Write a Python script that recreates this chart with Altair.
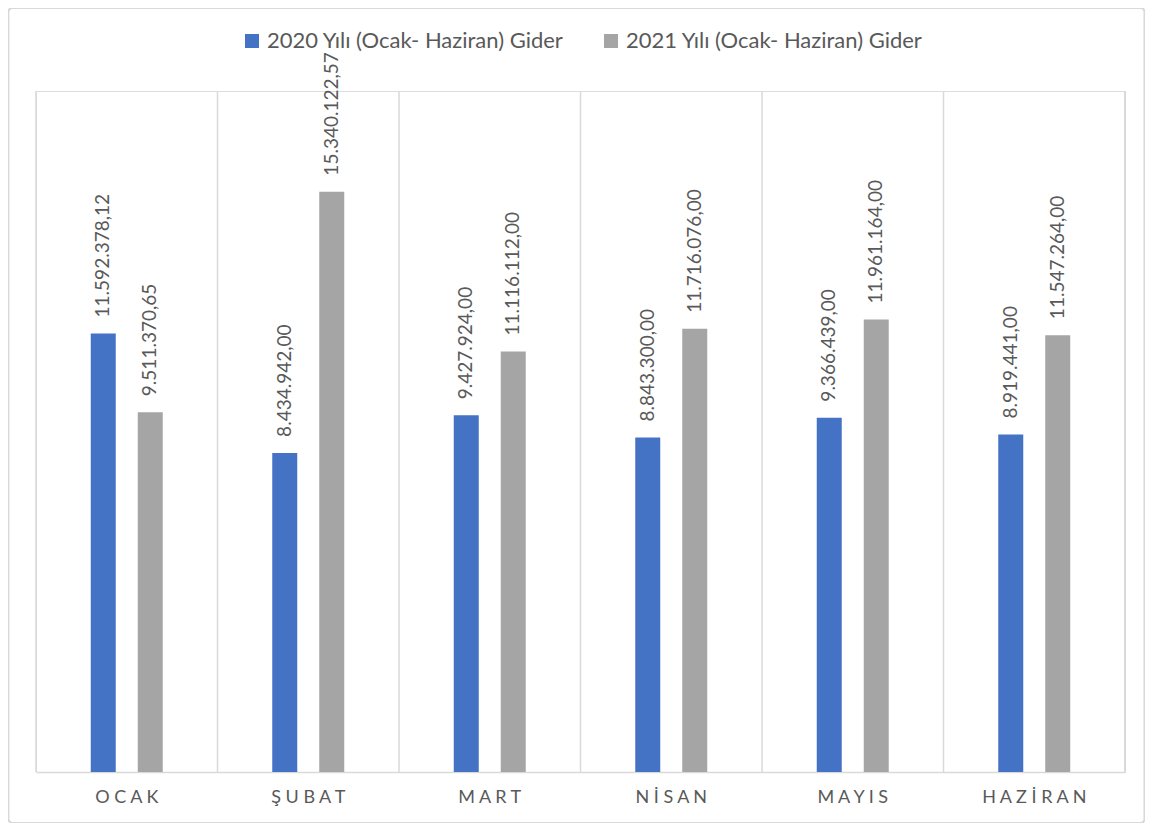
import altair as alt
import pandas as pd

months = ["OCAK", "ŞUBAT", "MART", "NİSAN", "MAYIS", "HAZİRAN"]
series = ["2020 Yılı (Ocak- Haziran) Gider", "2021 Yılı (Ocak- Haziran) Gider"]
values_2020 = [11592378.12, 8434942.00, 9427924.00, 8843300.00, 9366439.00, 8919441.00]
values_2021 = [9511370.65, 15340122.57, 11116112.00, 11716076.00, 11961164.00, 11547264.00]
colors = ["#4472C4", "#A5A5A5"]


def tr_format(v):
    s = f"{v:,.2f}"
    return s.replace(",", "X").replace(".", ",").replace("X", ".")


rows = []
for m, a, b in zip(months, values_2020, values_2021):
    rows.append({"month": m, "series": series[0], "value": a, "label": tr_format(a)})
    rows.append({"month": m, "series": series[1], "value": b, "label": tr_format(b)})
df = pd.DataFrame(rows)
grid_df = pd.DataFrame({"month": months})

W, H = 1089, 681
FONT = "Lato"
TXT = "#595959"
GRID = "#D9D9D9"

x_axis = alt.Axis(
    title=None,
    labelAngle=0,
    grid=False,
    ticks=False,
    bandPosition=0.5,
    domainColor=GRID,
    domainWidth=1.5,
    labelFont=FONT,
    labelFontSize=18,
    labelColor=TXT,
    labelPadding=16,
    labelExpr="join(split(datum.label, ''), ' ')",
)
x_enc = alt.X("month:N", sort=months,
              scale=alt.Scale(paddingInner=0, paddingOuter=0), axis=x_axis)
xoff = alt.XOffset("series:N", sort=series,
                   scale=alt.Scale(paddingInner=0, paddingOuter=0.931))
y_enc = alt.Y("value:Q", scale=alt.Scale(domain=[0, 18000000]), axis=None)

frame = alt.Chart(grid_df).mark_rect(
    fill=None, stroke=GRID, strokeWidth=1.2, cornerRadius=3
).encode(
    x=alt.value(-27.5), x2=alt.value(W + 19.5),
    y=alt.value(-82.5), y2=alt.value(H + 50.5),
)

gridlines = alt.Chart(grid_df).mark_rule(color=GRID, strokeWidth=1.5).encode(
    x=alt.X("month:N", sort=months, bandPosition=0, axis=x_axis),
    y=alt.value(0), y2=alt.value(H),
)
right_line = alt.Chart(grid_df).mark_rule(color=GRID, strokeWidth=1.5).encode(
    x=alt.value(W), y=alt.value(0), y2=alt.value(H),
)

bars = alt.Chart(df).mark_bar(size=25).encode(
    x=x_enc,
    xOffset=xoff,
    y=y_enc,
    color=alt.Color(
        "series:N",
        sort=series,
        scale=alt.Scale(domain=series, range=colors),
        legend=alt.Legend(
            title=None,
            orient="none",
            legendX=205,
            legendY=-61,
            direction="horizontal",
            symbolType="square",
            symbolSize=196,
            symbolStrokeWidth=0,
            labelFont=FONT,
            labelFontSize=22,
            labelColor=TXT,
            labelLimit=400,
            columnPadding=36,
            labelOffset=4,
        ),
    ),
)

labels = alt.Chart(df).mark_text(
    angle=270, align="left", baseline="middle", dx=16,
    font=FONT, fontSize=19, color=TXT,
).encode(
    x=alt.X("month:N", sort=months, axis=x_axis),
    xOffset=xoff,
    y=y_enc,
    text="label:N",
)

chart = alt.layer(frame, gridlines, right_line, bars, labels).properties(
    width=W, height=H,
    padding={"left": 28, "top": 83, "right": 20, "bottom": 51},
    autosize=alt.AutoSizeParams(type="none"),
).configure_view(stroke=None).configure(background="white")

chart.save("out.html", embed_options={"renderer": "svg", "actions": False})
